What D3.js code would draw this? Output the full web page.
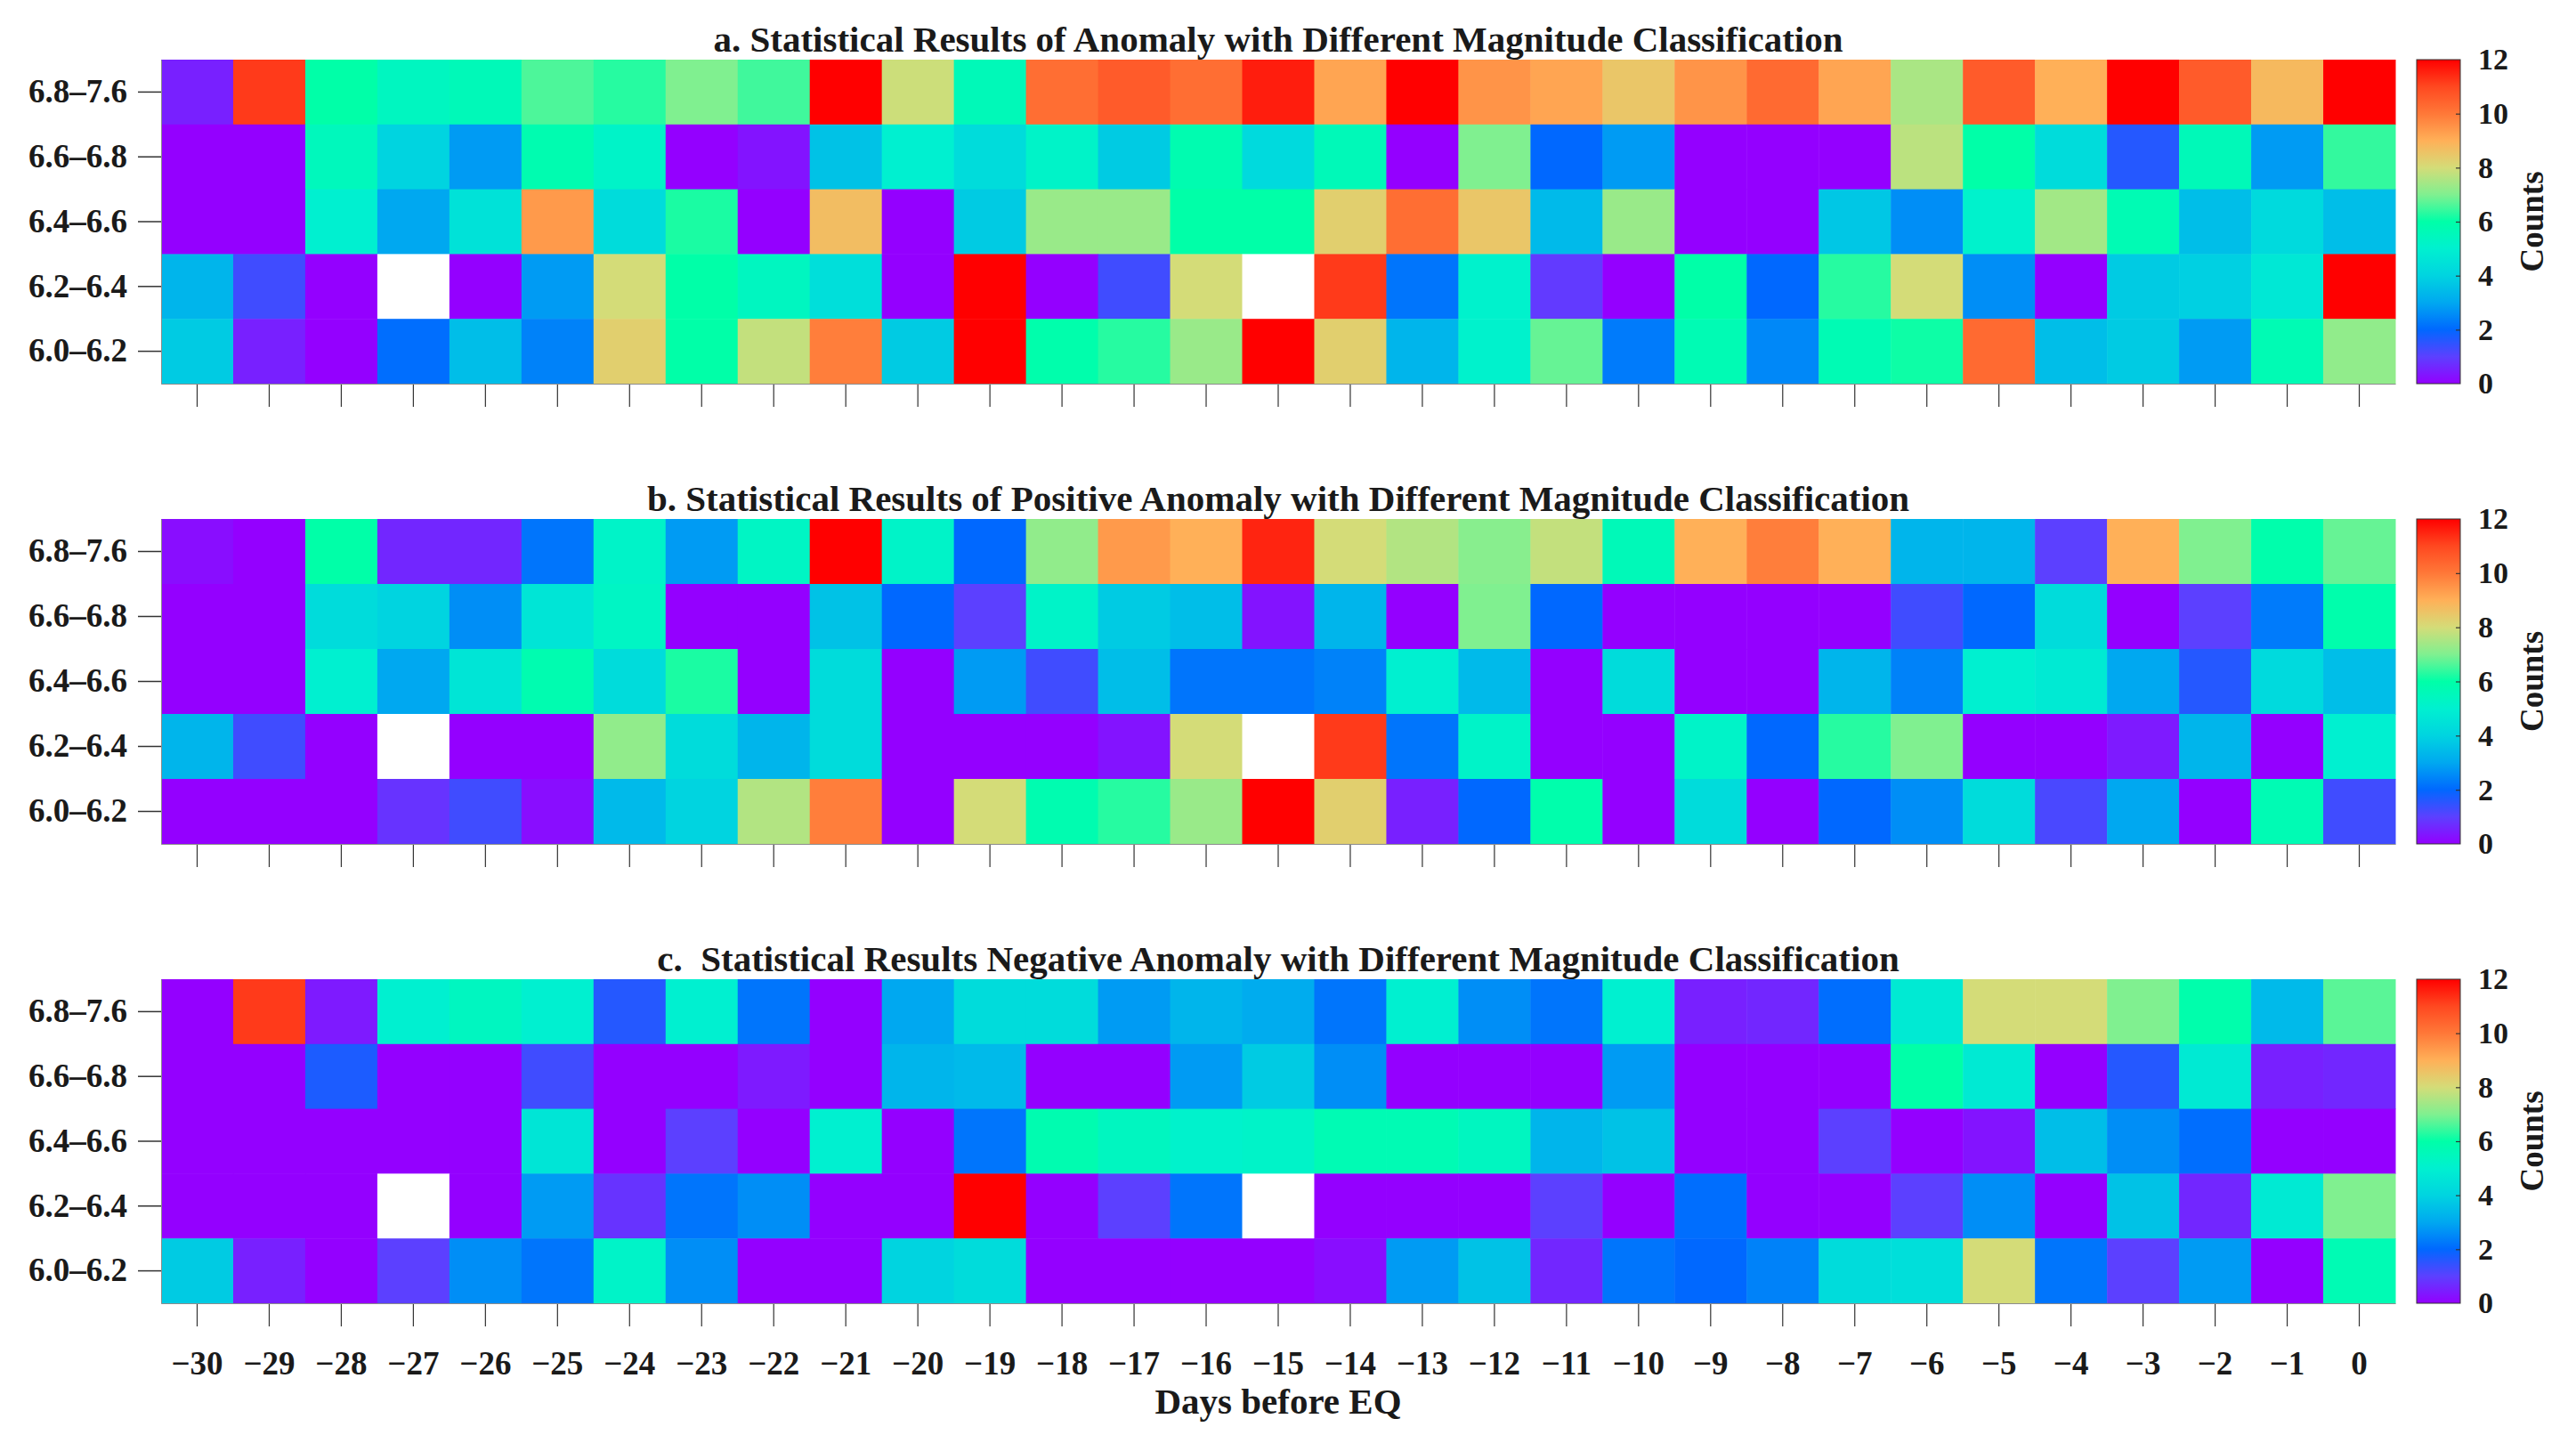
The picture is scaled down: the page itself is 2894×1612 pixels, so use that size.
<!DOCTYPE html>
<html><head><meta charset="utf-8">
<script src="https://cdn.jsdelivr.net/npm/d3@7"></script>
<style>body{margin:0;background:#fff}svg{display:block}text{font-family:"Liberation Serif","Times New Roman",serif;font-weight:bold;fill:#1a1a1a}</style>
</head><body><svg id="chart" width="2894" height="1612"></svg>
<script>
// ---------- data ----------
const days = [-30,-29,-28,-27,-26,-25,-24,-23,-22,-21,-20,-19,-18,-17,-16,-15,-14,-13,-12,-11,-10,-9,-8,-7,-6,-5,-4,-3,-2,-1,0];
const magClasses = ["6.8–7.6","6.6–6.8","6.4–6.6","6.2–6.4","6.0–6.2"];
const colorTicks = [0,2,4,6,8,10,12];
const panelTitles = [
  "a. Statistical Results of Anomaly with Different Magnitude Classification",
  "b. Statistical Results of Positive Anomaly with Different Magnitude Classification",
  "c.  Statistical Results Negative Anomaly with Different Magnitude Classification"
];
// null = no data (white cell)
const countsAll = [
  [0.5,11.2,6,5.4,5.6,6.6,6.3,7,6.5,12,7.9,5.6,10.2,10.6,10.2,11.6,9.2,12,9.5,9.2,8.5,9.5,10.3,9.2,7.5,10.6,9,12,10.6,8.8,12],
  [0,0,5.5,4,2.8,5.8,5.2,0,0.3,3.6,5,4.3,5.2,3.8,5.8,4.2,5.6,0,7,2,2.8,0,0,0,7.7,6,4.3,1.6,5.6,2.8,6.4],
  [0,0,5,3,4.5,9.4,4.3,6.2,0,8.7,0,3.8,7.3,7.3,6,6,8.3,10.2,8.5,3.4,7.3,0,0,3.7,2.6,5.1,7.4,5.7,3.5,4.2,3.5],
  [3.3,1.3,0,null,0,2.8,8,6,5.4,4.4,0,12,0,1.3,8,null,11.2,2.2,5.1,0.9,0,6,2,6.3,8,2.6,0,3.8,3.9,4.7,12],
  [3.8,0.5,0,2.1,3.5,2.4,8.3,6,7.8,9.9,3.8,12,5.9,6.3,7.3,12,8.3,3.3,5.1,6.8,2.3,5.7,2.5,5.7,6.1,10.3,3.5,3.8,2.8,5.7,7.2]
];
const countsPositive = [
  [0.2,0,6,0.6,0.6,2.2,5.2,2.8,5.3,12,5.2,2,7.2,9.4,9,11.5,8,7.6,7.1,7.8,5.6,9,9.9,9,3.3,3.3,1,9,7,5.9,6.8],
  [0,0,4.3,4,2.6,4.6,5.3,0,0,3.6,2,1,5.2,3.8,3.5,0.3,3.3,0,7,2,0,0,0,0,1.3,2,4.3,0,1,2.3,5.9],
  [0,0,5,3,4.6,5.8,4.3,6.2,0,4.3,0,2.8,1.3,3.5,2.2,2.2,2.4,5,3.4,0,4.3,0,0,3.3,2.4,5,4.8,3,1.6,4.2,3.5],
  [3.3,1.3,0,null,0,0,7.2,4.3,3.3,4.3,0,0,0,0.3,8,null,11.2,2.2,5.2,0,0,5.2,2,6.3,7,0,0,0.4,3.3,0,5],
  [0,0,0,0.8,1.3,0.2,3.4,4,7.6,9.9,0,8,5.8,6.3,7.3,12,8.3,0.5,2,5.9,0,4.3,0,2,2.6,4.3,1.2,3,0,5.7,1.3]
];
const countsNegative = [
  [0,11.2,0.4,5,5.4,5,1.6,5,2.2,0,3,4.3,4.3,2.8,3.3,3.1,2.2,5,2.6,2.2,5,0.5,0.6,2.1,4.8,8,8,7,5.9,3.4,6.7],
  [0,0,1.7,0,0,1.3,0,0,0.4,0,3.3,3.4,0,0,2.8,3.8,2.6,0,0,0,2.8,0,0,0,6,4.8,0,1.6,4.8,0.5,0.6],
  [0,0,0,0,0,4.6,0,1,0,5,0,2.2,5.8,5.4,5.1,5.2,5.7,5.7,5.4,3.3,3.6,0,0,1,0,0.3,3.5,2.6,2.1,0,0],
  [0,0,0,null,0,2.8,0.8,2.2,2.6,0,0,12,0,1,2.2,null,0,0,0,1,0,2.1,0,0,1,2.6,0,3.6,0.6,4.8,7],
  [3.8,0.5,0,1,2.6,2.2,5.2,2.6,0,0,4,4.3,0,0,0,0,0.2,2.8,3.6,0.6,2.2,2,2.4,4.3,4.4,8,2.2,1,2.8,0,5.7]
];
const colorStops = ["#9400ff","#5c40ff","#0068ff","#00a8f0","#00d4e0","#00f0d0","#00ffa8","#80f090","#d4dc78","#ffb058","#ff7838","#ff4820","#ff0000"];

// ---------- layout ----------
const svg = d3.select("#chart");
const plotLeft = 181, plotRight = 2691;
const panels = [
  {data: countsAll, title: panelTitles[0], top: 67, bottom: 431},
  {data: countsPositive, title: panelTitles[1], top: 583, bottom: 948},
  {data: countsNegative, title: panelTitles[2], top: 1100, bottom: 1464}
];
const cbLeft = 2715, cbRight = 2764;
const tickFont = 37, titleFont = 41;

const x = d3.scaleBand().domain(days).range([plotLeft, plotRight]).padding(0);
const color = d3.scaleLinear().domain(d3.range(colorStops.length)).range(colorStops).interpolate(d3.interpolateRgb).clamp(true);
const fmt = d3.format("d");

// gradient for colorbar
const defs = svg.append("defs");
const grad = defs.append("linearGradient").attr("id","cbgrad").attr("x1",0).attr("y1",1).attr("x2",0).attr("y2",0);
d3.range(0, 12.0001, 0.25).forEach(v => grad.append("stop").attr("offset", v/12).attr("stop-color", color(v)));

panels.forEach((p, pi) => {
  const y = d3.scaleBand().domain(magClasses).range([p.top, p.bottom]).padding(0);
  const g = svg.append("g");
  const cells = [];
  p.data.forEach((row, ri) => row.forEach((v, ci) => cells.push({day: days[ci], mag: magClasses[ri], v})));
  g.selectAll("rect.cell").data(cells).join("rect")
    .attr("class","cell")
    .attr("x", d => x(d.day)).attr("y", d => y(d.mag))
    .attr("width", x.bandwidth() + 0.5).attr("height", y.bandwidth() + 0.5)
    .attr("fill", d => d.v == null ? "#ffffff" : color(d.v));

  // x axis ticks (outward)
  const xa = g.append("g").attr("transform", `translate(0,${p.bottom})`)
    .call(d3.axisBottom(x).tickSize(26).tickSizeOuter(0).tickPadding(28).tickFormat(pi === 2 ? fmt : () => ""));
  xa.select(".domain").attr("stroke","#8c8c8c").attr("stroke-width",1);
  xa.selectAll(".tick line").attr("stroke","#333").attr("stroke-width",1.2).attr("y1",1);
  xa.selectAll(".tick text").attr("font-size", tickFont).attr("fill","#1a1a1a")
    .style("font-family",'"Liberation Serif","Times New Roman",serif').style("font-weight","bold");

  // y axis ticks (outward)
  const ya = g.append("g").attr("transform", `translate(${plotLeft},0)`)
    .call(d3.axisLeft(y).tickSize(26).tickSizeOuter(0).tickPadding(12));
  ya.select(".domain").attr("stroke","#8c8c8c").attr("stroke-width",1);
  ya.selectAll(".tick line").attr("stroke","#333").attr("stroke-width",1.5);
  ya.selectAll(".tick text").attr("font-size", tickFont).attr("fill","#1a1a1a")
    .style("font-family",'"Liberation Serif","Times New Roman",serif').style("font-weight","bold");

  // title
  g.append("text").attr("x", (plotLeft + plotRight) / 2).attr("y", p.top - 9)
    .attr("text-anchor","middle").attr("font-size", titleFont)
    .attr("xml:space","preserve").style("white-space","pre").text(p.title);

  // colorbar
  const cy = d3.scaleLinear().domain([0, 12]).range([p.bottom, p.top]);
  g.append("rect").attr("x", cbLeft).attr("y", p.top).attr("width", cbRight - cbLeft).attr("height", p.bottom - p.top)
    .attr("fill","url(#cbgrad)").attr("stroke","#333").attr("stroke-width",1);
  const ca = g.append("g").attr("transform", `translate(${cbRight},0)`)
    .call(d3.axisRight(cy).tickValues(colorTicks).tickSize(-5).tickPadding(20).tickFormat(fmt));
  ca.select(".domain").remove();
  ca.selectAll(".tick line").attr("stroke","#333").attr("stroke-width",1.2)
    .attr("opacity", d => (d === 0 || d === 12) ? 0 : 1);
  ca.selectAll(".tick text").attr("font-size", 34).attr("fill","#1a1a1a")
    .style("font-family",'"Liberation Serif","Times New Roman",serif').style("font-weight","bold");
  g.append("text").attr("transform", `translate(2857,${(p.top + p.bottom) / 2}) rotate(-90)`)
    .attr("text-anchor","middle").attr("font-size", 37).text("Counts");
});

svg.append("text").attr("x", (plotLeft + plotRight) / 2).attr("y", 1588)
  .attr("text-anchor","middle").attr("font-size", titleFont).text("Days before EQ");
</script></body></html>
